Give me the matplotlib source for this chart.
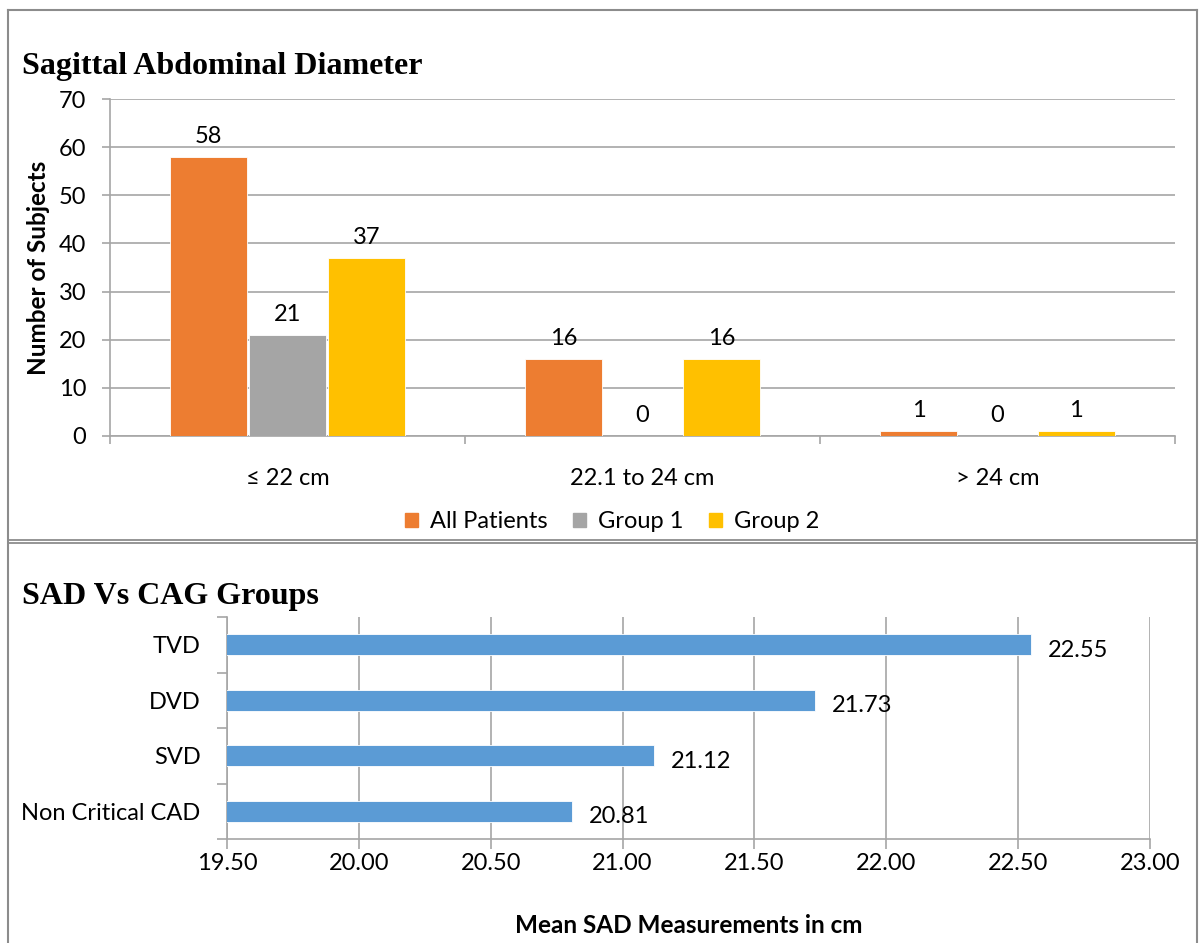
import matplotlib
matplotlib.use("Agg")
import matplotlib.pyplot as plt
from matplotlib.lines import Line2D
from matplotlib.patches import Patch
import numpy as np

# ---- data ----
categories = ["≤ 22 cm", "22.1 to 24 cm", "> 24 cm"]
series_names = ["All Patients", "Group 1", "Group 2"]
all_patients = [58, 16, 1]
group1 = [21, 0, 0]
group2 = [37, 16, 1]

cag_groups = ["Non Critical CAD", "SVD", "DVD", "TVD"]
mean_sad = [20.81, 21.12, 21.73, 22.55]
x_ticks = [19.50, 20.00, 20.50, 21.00, 21.50, 22.00, 22.50, 23.00]

colors = ["#ED7D31", "#A5A5A5", "#FFC000"]
blue = "#5B9BD5"
grid_c = "#A6A6A6"
FS = 17

W, H = 1200, 943
plt.rcParams['font.family'] = ['Lato', 'DejaVu Sans']
fig = plt.figure(figsize=(W / 100, H / 100), dpi=100)

def px_axes(l, t, r, b):
    return fig.add_axes([l / W, (H - b) / H, (r - l) / W, (b - t) / H])

# ---- frame lines ----
def fline(x0, y0, x1, y1, lw=1.5):
    fig.add_artist(Line2D([x0 / W, x1 / W], [(H - y0) / H, (H - y1) / H],
                          color="#8C8C8C", lw=lw, transform=fig.transFigure))

fline(8, 10, 1197, 10)
fline(8, 10, 8, 943)
fline(1197, 10, 1197, 943)
fline(8, 539.5, 1197, 539.5, lw=1.3)
fline(8, 542.5, 1197, 542.5, lw=1.3)

# ---- top chart ----
ax = px_axes(110, 99, 1175, 436)
x = np.arange(len(categories))
w = 0.218
offs = [-0.222, 0.0, 0.222]
for vals, off, c in zip([all_patients, group1, group2], offs, colors):
    ax.bar(x + off, vals, width=w, color=c, edgecolor="white", linewidth=0.6, zorder=3)
    for xi, v in zip(x + off, vals):
        ax.annotate(str(v), (xi, v), xytext=(0, 7), textcoords="offset points",
                    ha="center", va="bottom", fontsize=FS, color="#000000")
ax.set_xlim(-0.5, 2.5)
ax.set_ylim(0, 70)
ax.set_yticks(range(0, 71, 10))
ax.yaxis.grid(True, color=grid_c, lw=1.2, zorder=0)
ax.set_axisbelow(True)
for s in ["top", "right"]:
    ax.spines[s].set_visible(False)
for s in ["left", "bottom"]:
    ax.spines[s].set_color(grid_c)
    ax.spines[s].set_linewidth(1.2)
ax.set_xticks(x)
ax.set_xticklabels(categories)
ax.tick_params(axis="x", length=0, pad=23, labelsize=FS)
ax.set_xticks([-0.5, 0.5, 1.5, 2.5], minor=True)
ax.tick_params(axis="x", which="minor", length=6, width=1.2, color=grid_c)
ax.tick_params(axis="y", length=6, width=1.2, color=grid_c, pad=11, labelsize=FS)
ax.set_ylabel("Number of Subjects", fontsize=17.5, fontweight="bold")
ax.yaxis.set_label_coords(-0.056, 0.5)

handles = [Patch(color=c) for c in colors]
fig.legend(handles, series_names, loc="center", bbox_to_anchor=(612 / W, (H - 522) / H),
           ncol=3, frameon=False, fontsize=FS, handlelength=0.55, handleheight=0.55,
           handletextpad=0.5, columnspacing=1.1)

fig.text(22 / W, (H - 74) / H, "Sagittal Abdominal Diameter", family="Liberation Serif",
         fontweight="bold", fontsize=23, va="baseline", ha="left")

# ---- bottom chart ----
ax2 = px_axes(227, 617, 1150, 839)
y = np.arange(len(cag_groups))
ax2.barh(y, mean_sad, left=0, height=0.38, color=blue, edgecolor="white", linewidth=0.6, zorder=3)
for yi, v in zip(y, mean_sad):
    ax2.annotate(f"{v:.2f}", (v, yi), xytext=(12, -4), textcoords="offset points",
                 ha="left", va="center", fontsize=FS)
ax2.set_xlim(19.5, 23.0)
ax2.set_ylim(-0.5, 3.5)
ax2.set_xticks(x_ticks)
ax2.set_xticklabels([f"{t:.2f}" for t in x_ticks])
ax2.xaxis.grid(True, color=grid_c, lw=1.2, zorder=0)
ax2.set_axisbelow(True)
for s in ["top", "right"]:
    ax2.spines[s].set_visible(False)
for s in ["left", "bottom"]:
    ax2.spines[s].set_color(grid_c)
    ax2.spines[s].set_linewidth(1.2)
ax2.tick_params(axis="x", length=7, width=1.2, color=grid_c, pad=3, labelsize=FS)
ax2.set_yticks(y)
ax2.set_yticklabels(cag_groups)
ax2.tick_params(axis="y", length=0, pad=19, labelsize=FS)
ax2.set_yticks([-0.5, 0.5, 1.5, 2.5, 3.5], minor=True)
ax2.tick_params(axis="y", which="minor", length=7, width=1.2, color=grid_c)
ax2.set_xlabel("Mean SAD Measurements in cm", fontsize=17.5, fontweight="bold", labelpad=29)

fig.text(22 / W, (H - 604) / H, "SAD Vs CAG Groups", family="Liberation Serif",
         fontweight="bold", fontsize=23, va="baseline", ha="left")

fig.savefig("out.png", dpi=100, facecolor="white")
